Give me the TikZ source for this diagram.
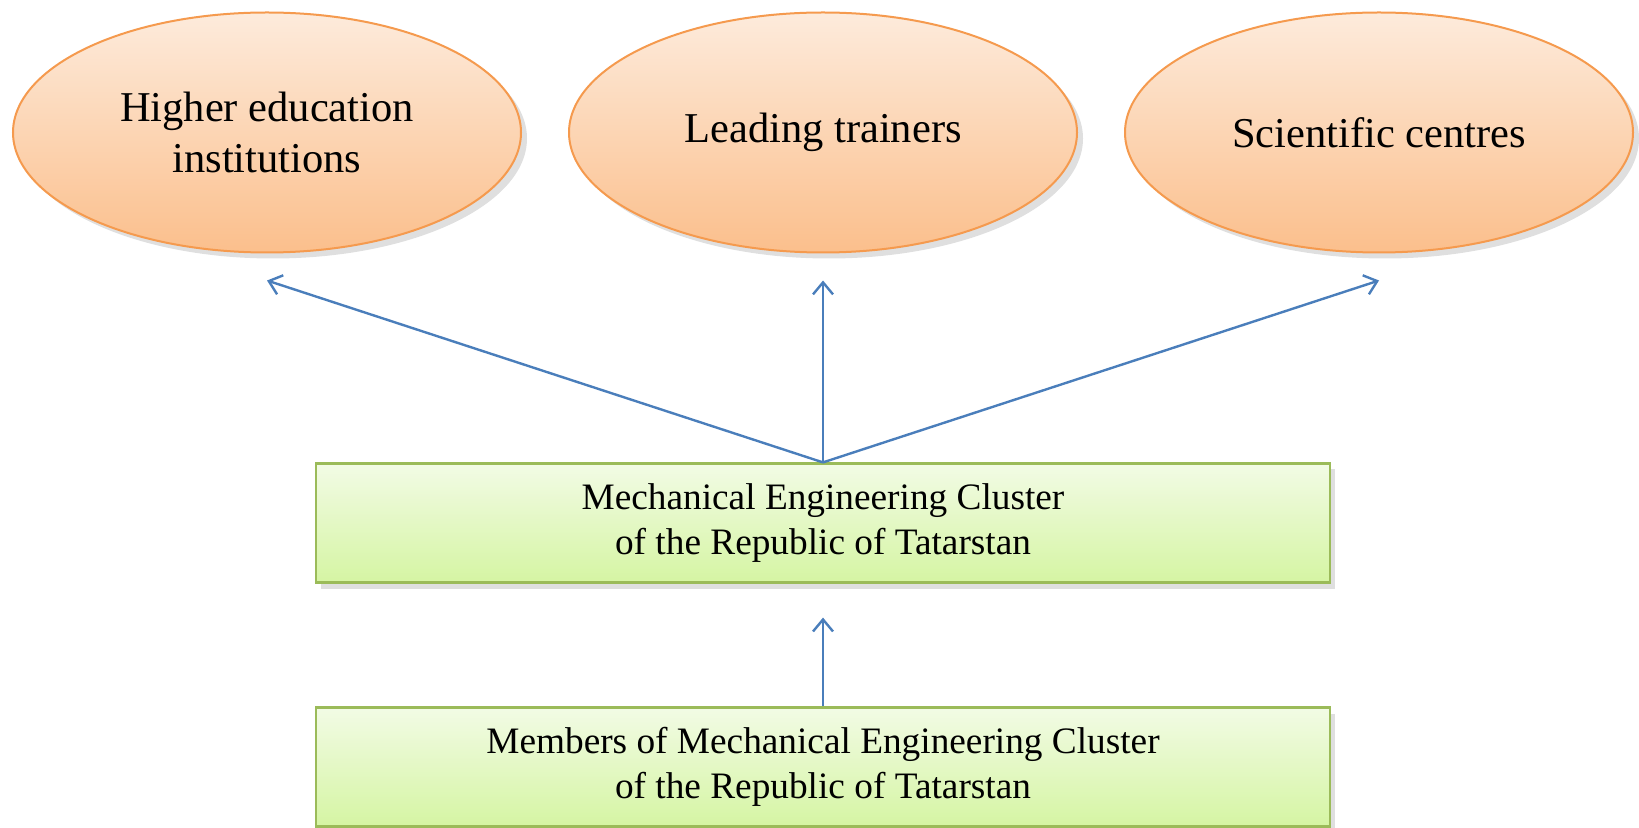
\documentclass[tikz,border=0pt]{standalone}
\usepackage{fontspec}
\setmainfont{Liberation Serif}
\usetikzlibrary{shapes.geometric,shadows,arrows.meta}
\definecolor{peachtop}{HTML}{FDEBDC}
\definecolor{peachbot}{HTML}{FBBF8C}
\definecolor{peachline}{HTML}{F59A4E}
\definecolor{limetop}{HTML}{F2FBE5}
\definecolor{limebot}{HTML}{D5F5A3}
\definecolor{limeline}{HTML}{9BBB59}
\definecolor{arrowblue}{HTML}{4A7EBB}

\begin{document}
\begin{tikzpicture}[level distance=122pt,grow'=up,
      box/.style={rectangle, draw=limeline, line width=1.1pt, top color=limetop, bottom color=limebot,
        minimum width=507pt, minimum height=59.5pt, align=center,
        font=\fontsize{18.65}{22.4}\selectfont,
        drop shadow={shadow xshift=2.5pt, shadow yshift=-3pt, opacity=0.25}},
      goal/.style={ellipse, draw=peachline, line width=1pt, top color=peachtop, bottom color=peachbot,
        minimum width=254pt, minimum height=120pt, inner sep=0pt, align=center,
        font=\fontsize{21.25}{25.5}\selectfont,
        drop shadow={shadow xshift=3pt, shadow yshift=-3pt, opacity=0.25}},
      edge from parent/.style={draw=arrowblue, line width=1.2pt, -{Straight Barb[length=6pt,width=10pt]}},
      level 1/.style={edge from parent path={(\tikzparentnode.north) -- ([yshift=-17pt]\tikzchildnode.south)}},
      level 2/.style={level distance=195.25pt, sibling distance=278pt,
        edge from parent path={(\tikzparentnode.north) -- ([yshift=-13.5pt]\tikzchildnode.south)}}]
      \useasboundingbox (0,0) rectangle (819.5pt,-414pt);
      \node[box] (members) at (411.5pt,-383.5pt) {Members of Mechanical Engineering Cluster\\of the Republic of Tatarstan}
      child {
        node[box] (cluster) {Mechanical Engineering Cluster\\of the Republic of Tatarstan}
        child {
          node[goal] (higher) {Higher education\\institutions}
        }
        child {
          node[goal] (trainers) {Leading trainers}
        }
        child {
          node[goal] (science) {Scientific centres}
        }
      };
    \end{tikzpicture}
\end{document}
